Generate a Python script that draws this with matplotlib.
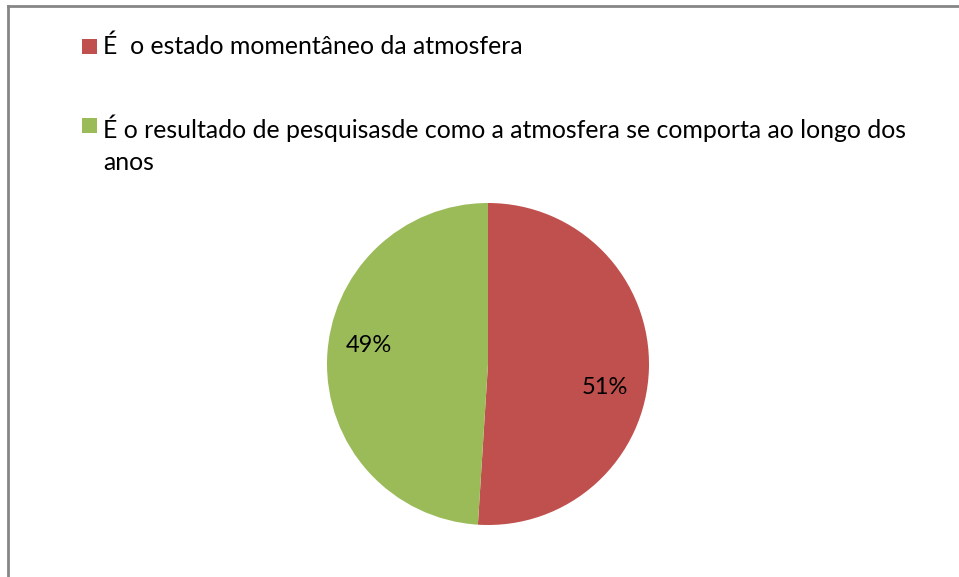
import matplotlib
matplotlib.use('Agg')
import matplotlib.pyplot as plt
from matplotlib.patches import Rectangle
from matplotlib.lines import Line2D

plt.rcParams['font.family'] = ['Lato', 'DejaVu Sans']

# data
labels = ['É  o estado momentâneo da atmosfera',
          'É o resultado de pesquisasde como a atmosfera se comporta ao longo dos\nanos']
values = [51, 49]
colors = ['#C0504D', '#9BBB59']

W, H = 959, 577
fig = plt.figure(figsize=(W / 100, H / 100), dpi=100)

# pie centred at (488, 364) px, radius ~161 px
r = 161
ax = fig.add_axes([(488 - r) / W, 1 - (364 + r) / H, 2 * r / W, 2 * r / H])
wedges, texts, autotexts = ax.pie(values, colors=colors, startangle=90, counterclock=False,
                                  autopct='%1.0f%%', pctdistance=0.75, radius=1,
                                  wedgeprops=dict(linewidth=0),
                                  textprops=dict(fontsize=17, color='black'))
ax.set_xlim(-1, 1)
ax.set_ylim(-1, 1)
ax.set_aspect('auto')
# nudge labels to where the reference has them
autotexts[0].set_position(((605 - 488) / r, -(388 - 364) / r))
autotexts[1].set_position(((369 - 488) / r, -(346 - 364) / r))

# legend drawn by hand: squares + text
ys = [47, 126]
for y, lab, c in zip(ys, labels, colors):
    fig.patches.append(Rectangle((82 / W, 1 - (y + 7) / H), 15 / W, 15 / H,
                                 transform=fig.transFigure, facecolor=c, edgecolor='none'))
    fig.text(103 / W, 1 - (y - 12) / H, lab, fontsize=17.9, va='top', ha='left',
             linespacing=1.5)

# outer frame (top and left edges visible)
fig.lines.append(Line2D([8 / W, 1], [1 - 6 / H, 1 - 6 / H], transform=fig.transFigure,
                        color='#868686', linewidth=2))
fig.lines.append(Line2D([8 / W, 8 / W], [0, 1 - 6 / H], transform=fig.transFigure,
                        color='#868686', linewidth=2))

fig.savefig('out.png', dpi=100)
